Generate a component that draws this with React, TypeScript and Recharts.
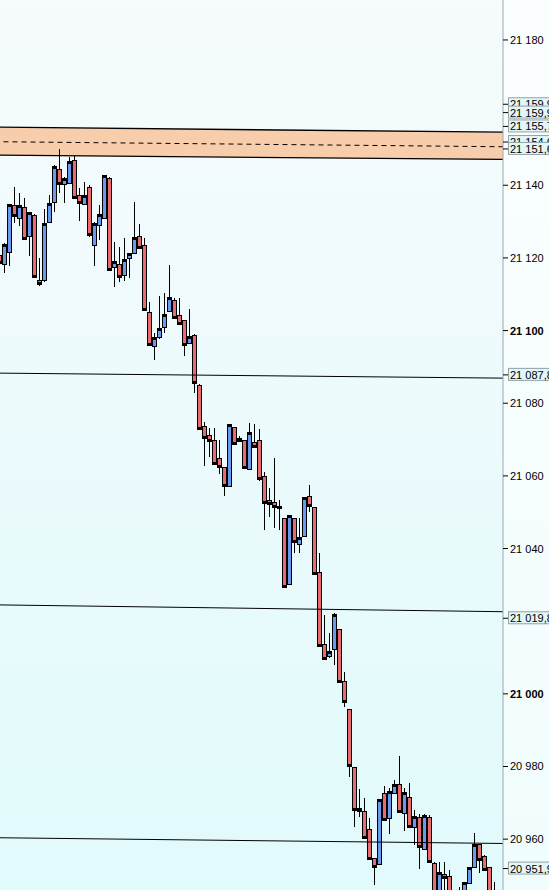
import React from 'react';
import { ComposedChart, XAxis, YAxis, Bar, Line, Area } from 'recharts';

// candles, left to right (one per 5px slot)
const candleOpen = [
  21120.8, 21118.3, 21121.7, 21134.6, 21130.9, 21134.0, 21126.0, 21131.8, 21113.8, 21113.9,
  21129.8, 21135.3, 21144.5, 21140.3, 21140.7, 21146.9, 21137.2, 21134.9, 21139.4, 21123.5,
  21129.0, 21130.9, 21142.0, 21117.4, 21118.3, 21115.2, 21119.9, 21121.3, 21126.0, 21123.6,
  21105.2, 21095.8, 21098.3, 21100.9, 21105.4, 21108.4, 21104.3, 21102.9, 21096.7, 21098.8,
  21085.0, 21073.7, 21071.2, 21069.9, 21064.8, 21062.4, 21057.3, 21073.4, 21070.4, 21069.9,
  21061.8, 21069.3, 21069.9, 21060.0, 21053.4, 21052.9, 21051.4, 21048.3, 21030.2, 21048.3,
  21041.2, 21043.5, 21054.5, 21051.4, 21033.6, 21013.7, 21010.4, 21012.3, 21017.8, 21003.6,
  20995.7, 20979.8, 20968.6, 20967.7, 20962.7, 20954.7, 20953.2, 20972.6, 20965.7, 20972.8,
  20975.1, 20967.1, 20971.7, 20963.3, 20966.2, 20957.2, 20966.2, 20953.5, 20943.5, 20950.3,
  20949.8, 20945.0, 20945.0, 20943.0, 20948.0, 20952.3, 20958.6, 20955.4, 20952.2, 20945.0,
];
const candleHigh = [
  21122.2, 21124.2, 21134.9, 21139.4, 21137.8, 21136.5, 21132.5, 21132.0, 21120.0, 21133.5,
  21137.3, 21145.6, 21149.9, 21142.3, 21147.7, 21148.1, 21139.3, 21141.0, 21140.1, 21129.9,
  21134.6, 21142.8, 21142.3, 21124.4, 21123.1, 21125.6, 21121.4, 21135.4, 21129.3, 21125.4,
  21107.8, 21099.3, 21109.5, 21110.3, 21118.1, 21108.9, 21108.9, 21103.0, 21105.9, 21099.0,
  21085.2, 21074.8, 21073.3, 21073.3, 21069.9, 21062.5, 21074.3, 21073.5, 21070.9, 21070.0,
  21074.6, 21074.3, 21072.8, 21061.0, 21056.6, 21064.8, 21053.4, 21048.4, 21049.2, 21048.4,
  21048.3, 21054.3, 21057.5, 21051.5, 21038.7, 21021.7, 21016.7, 21022.2, 21017.9, 21006.1,
  20995.8, 20979.9, 20973.7, 20971.2, 20965.7, 20954.8, 20971.0, 20974.6, 20974.2, 20976.3,
  20982.9, 20974.0, 20975.4, 20968.0, 20966.9, 20966.9, 20966.6, 20953.6, 20953.8, 20953.8,
  20951.5, 20945.5, 20946.9, 20948.3, 20952.2, 20961.6, 20958.7, 20955.5, 20952.3, 20948.3,
];
const candleLow = [
  21118.1, 21115.9, 21117.9, 21129.7, 21128.8, 21124.9, 21120.6, 21114.8, 21112.4, 21113.5,
  21129.5, 21132.7, 21137.8, 21135.2, 21140.5, 21136.7, 21130.3, 21134.7, 21125.8, 21117.9,
  21124.9, 21130.7, 21116.5, 21112.0, 21113.5, 21113.7, 21114.4, 21121.1, 21122.8, 21105.7,
  21096.0, 21091.9, 21097.7, 21099.3, 21105.2, 21103.4, 21101.8, 21093.1, 21096.5, 21082.7,
  21073.1, 21062.7, 21065.3, 21063.0, 21060.5, 21054.5, 21057.0, 21068.5, 21069.9, 21062.3,
  21061.6, 21067.9, 21058.7, 21045.1, 21048.8, 21045.6, 21045.1, 21029.5, 21030.0, 21038.7,
  21038.7, 21043.3, 21050.1, 21032.7, 21013.2, 21009.5, 21009.8, 21007.9, 21003.4, 20996.5,
  20977.2, 20963.3, 20966.0, 20960.5, 20954.5, 20947.4, 20953.0, 20965.3, 20961.4, 20972.6,
  20967.5, 20962.3, 20963.5, 20958.4, 20951.7, 20957.0, 20953.9, 20941.5, 20941.0, 20944.0,
  20941.5, 20939.5, 20940.5, 20942.0, 20947.6, 20952.2, 20950.7, 20951.7, 20943.0, 20942.0,
];
const candleClose = [
  21118.9, 21123.6, 21134.6, 21131.8, 21134.3, 21125.5, 21132.4, 21115.0, 21113.2, 21129.3,
  21134.8, 21145.0, 21140.7, 21141.6, 21146.4, 21136.9, 21135.5, 21137.1, 21126.6, 21129.3,
  21131.7, 21142.6, 21116.9, 21118.8, 21115.0, 21119.4, 21121.0, 21125.6, 21123.0, 21105.9,
  21096.2, 21097.9, 21100.4, 21104.3, 21109.1, 21103.8, 21102.2, 21096.3, 21098.3, 21085.8,
  21073.3, 21070.8, 21069.9, 21063.6, 21062.8, 21057.5, 21074.0, 21069.1, 21070.0, 21062.4,
  21071.7, 21068.3, 21059.3, 21052.7, 21052.5, 21051.7, 21051.4, 21029.8, 21049.0, 21042.2,
  21042.8, 21053.8, 21052.0, 21033.2, 21013.4, 21009.8, 21011.6, 21021.7, 21003.6, 20998.1,
  20980.4, 20968.2, 20968.0, 20960.7, 20954.7, 20952.6, 20970.8, 20965.5, 20973.1, 20974.9,
  20967.7, 20972.8, 20963.7, 20966.2, 20958.2, 20966.4, 20954.1, 20943.2, 20950.6, 20949.6,
  20942.5, 20941.0, 20943.0, 20947.8, 20952.0, 20958.5, 20954.4, 20951.9, 20944.0, 20943.5,
];

// sloped levels: [left edge, right edge]
const levelA = [21088.3, 21086.9];
const levelB = [21024.5, 21022.6];
const levelC = [20960.4, 20958.8];
const zoneTop = [21156.0, 21154.6];
const zoneMid = [21152.0, 21150.6];
const zoneBottom = [21148.3, 21147.1];

const priceTicks = [21180, 21140, 21120, 21100, 21080, 21060, 21040, 21000, 20980, 20960];
const boldTicks = [21100, 21000];
const markerPrices = [21162.3, 21160.0, 21156.2, 21151.9, 21150.0, 21087.8, 21020.8, 20951.9];
const markerTexts = ['21 159,9', '21 159,9', '21 155,7', '21 154,6', '21 151,6', '21 087,8', '21 019,8', '20 951,9'];

const UP = '#6a9aee';
const DOWN = '#e86b6d';
const FONT = '"Liberation Sans", Arial, sans-serif';

const edgeRow = (side: number, i: number) => ({
  i,
  la: levelA[side], lb: levelB[side], lc: levelC[side],
  zt: zoneTop[side], zm: zoneMid[side], zb: zoneBottom[side],
  zone: [zoneBottom[side], zoneTop[side]],
});

const rows: any[] = [
  edgeRow(0, -1),
  ...candleOpen.map((o, i) => ({ i, open: o, high: candleHigh[i], low: candleLow[i], close: candleClose[i] })),
  edgeRow(1, 101),
];

const fmt = (v: number) => `${Math.floor(v / 1000)} ${String(Math.round(v % 1000)).padStart(3, '0')}`;

const Candle = (props: any) => {
  const { x, y, width, height, payload } = props;
  if (!payload || payload.open === undefined) return null;
  const { open, close, high, low } = payload;
  const yTop = Math.min(y, y + height);
  const ratio = high > low ? Math.abs(height) / (high - low) : 0;
  const py = (v: number) => yTop + (high - v) * ratio;
  const left = Math.round(x + width / 2 - 2.5);
  const up = close >= open;
  const t = Math.round(py(Math.max(open, close)));
  const b = Math.max(Math.round(py(Math.min(open, close))), t + 1);
  const hy = Math.round(py(high));
  const ly = Math.round(py(low));
  const cy = up ? t : b;
  return (
    <g shapeRendering="crispEdges">
      <rect x={left + 2} y={hy} width={1} height={Math.max(ly - hy, 1)} fill="#000" />
      <rect x={left} y={t} width={5} height={b - t + 1} fill="#000" />
      {b - t - 1 > 0 && <rect x={left + 1} y={t + 1} width={3} height={b - t - 1} fill={up ? UP : DOWN} />}
      <rect x={left} y={cy - 1} width={5} height={3} fill="#000" />
    </g>
  );
};

const AxisTick = (props: any) => {
  const { x, y, payload } = props;
  const v = payload.value;
  const mi = markerPrices.indexOf(v);
  if (mi >= 0) {
    return (
      <g>
        <line x1={x} x2={x + 5} y1={y} y2={y} stroke="#000" />
        <rect x={x + 5.5} y={y - 6.5} width={50} height={12} fill="#e4f6f6" stroke="#8ea3ad" />
        <text x={x + 7} y={y + 4} fontSize={11} fontFamily={FONT} fill="#000">{markerTexts[mi]}</text>
      </g>
    );
  }
  return (
    <g>
      <line x1={x} x2={x + 5} y1={y} y2={y} stroke="#000" />
      <text x={x + 7} y={y + 4} fontSize={11} fontFamily={FONT} fill="#000"
        fontWeight={boldTicks.includes(v) ? 'bold' : 'normal'}>{fmt(v)}</text>
    </g>
  );
};

export default function App() {
  return (
    <div style={{ position: 'absolute', left: 0, top: 0, width: 549, height: 890, overflow: 'hidden',
      background: 'linear-gradient(to bottom, #fbfefe, #f1fdfd)' }}>
      <div style={{ position: 'absolute', left: 0, top: 0, width: 503, height: 890,
        background: 'linear-gradient(to bottom, #f6fbfd, #e1fafb)' }} />
      <div style={{ position: 'absolute', left: 0, top: 0 }}>
        <ComposedChart width={549} height={890} data={rows} margin={{ top: 0, right: 0, bottom: 0, left: 0 }}>
          <XAxis dataKey="i" type="number" domain={[0.1, 100.7]} allowDataOverflow hide />
          <YAxis orientation="right" width={46} domain={[20946, 21191]} allowDataOverflow
            ticks={[...priceTicks, ...markerPrices]} interval={0} tick={<AxisTick />}
            tickSize={0} tickMargin={0} tickLine={false} axisLine={{ stroke: '#9aa8b0' }} />
          <Area dataKey="zone" type="linear" connectNulls stroke="none" fill="#f8cdab" fillOpacity={1}
            isAnimationActive={false} dot={false} activeDot={false} />
          <Line dataKey="zt" type="linear" connectNulls stroke="#000" strokeWidth={1.3} dot={false} activeDot={false} isAnimationActive={false} />
          <Line dataKey="zb" type="linear" connectNulls stroke="#000" strokeWidth={1.3} dot={false} activeDot={false} isAnimationActive={false} />
          <Line dataKey="zm" type="linear" connectNulls stroke="#000" strokeWidth={1} strokeDasharray="5 4" dot={false} activeDot={false} isAnimationActive={false} />
          <Line dataKey="la" type="linear" connectNulls stroke="#000" strokeWidth={1} dot={false} activeDot={false} isAnimationActive={false} />
          <Line dataKey="lb" type="linear" connectNulls stroke="#000" strokeWidth={1} dot={false} activeDot={false} isAnimationActive={false} />
          <Line dataKey="lc" type="linear" connectNulls stroke="#000" strokeWidth={1} dot={false} activeDot={false} isAnimationActive={false} />
          <Bar dataKey={(d: any) => (d.open === undefined ? null : [d.low, d.high])} barSize={5}
            shape={<Candle />} isAnimationActive={false} />
        </ComposedChart>
      </div>
    </div>
  );
}
